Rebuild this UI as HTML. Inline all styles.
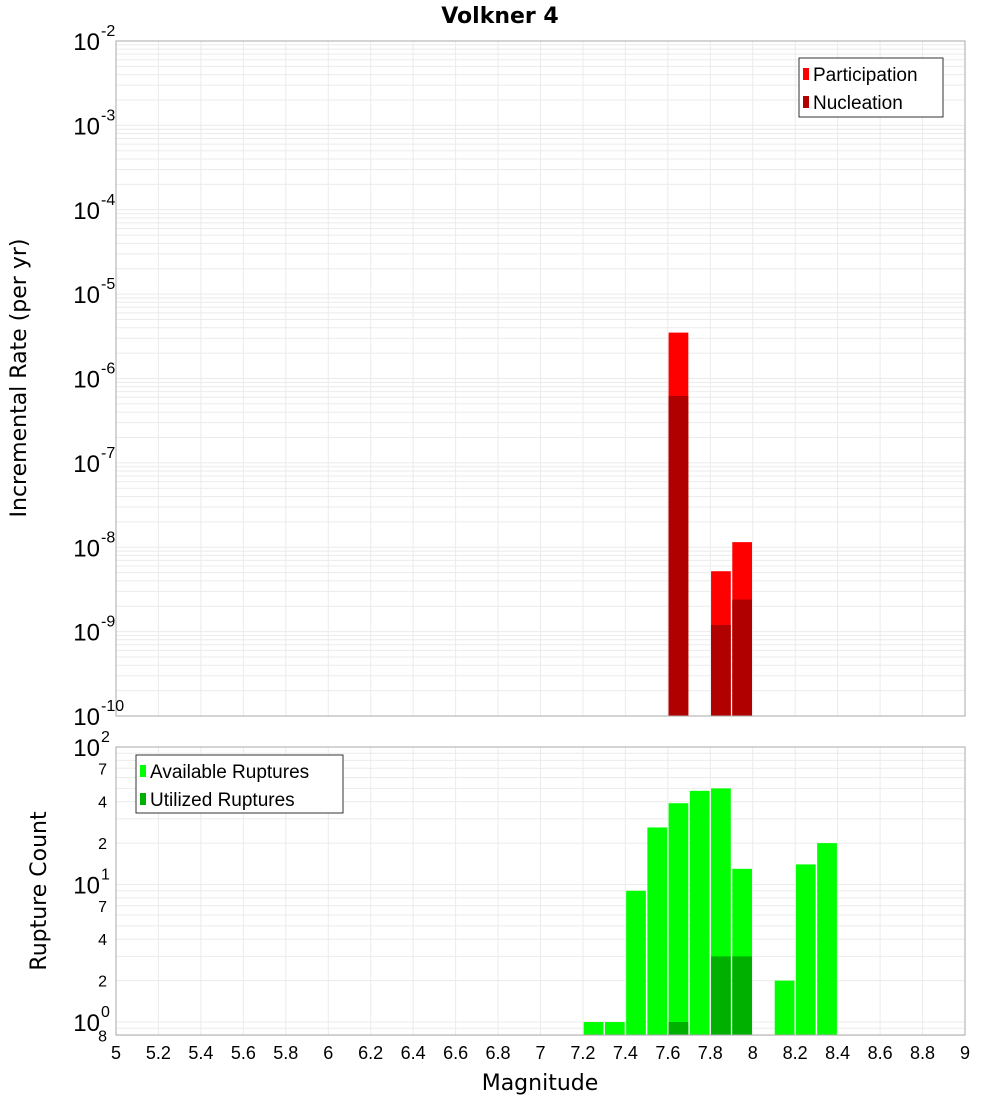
<!DOCTYPE html>
<html><head><meta charset="utf-8"><style>
html,body{margin:0;padding:0;background:#fff;}
svg{display:block;font-family:"Liberation Sans","DejaVu Sans",sans-serif;}
</style></head><body>
<svg id="chart" width="1000" height="1100" xmlns="http://www.w3.org/2000/svg">
<text x="500" y="23" text-anchor="middle" font-size="22" font-weight="bold" font-family="DejaVu Sans, sans-serif">Volkner 4</text>
<g id="topPanel"></g>
<g id="botPanel"></g>
<text x="540" y="1090" text-anchor="middle" font-size="22" font-family="DejaVu Sans, sans-serif">Magnitude</text>
<text transform="translate(26,378) rotate(-90)" text-anchor="middle" font-size="22" font-family="DejaVu Sans, sans-serif">Incremental Rate (per yr)</text>
<text transform="translate(46,891) rotate(-90)" text-anchor="middle" font-size="22" font-family="DejaVu Sans, sans-serif">Rupture Count</text>
</svg>
<script>
const rateMags = [7.65, 7.85, 7.95];
const participation = [3.5e-6, 5.2e-9, 1.15e-8];
const nucleation = [6.2e-7, 1.2e-9, 2.4e-9];
const countMags = [7.25, 7.35, 7.45, 7.55, 7.65, 7.75, 7.85, 7.95, 8.15, 8.25, 8.35];
const available = [1, 1, 9, 26, 39, 48, 50, 13, 2, 14, 20];
const utilMags = [7.65, 7.85, 7.95];
const utilized = [1, 3, 3];
const xTicks = ["5","5.2","5.4","5.6","5.8","6","6.2","6.4","6.6","6.8","7","7.2","7.4","7.6","7.8","8","8.2","8.4","8.6","8.8","9"];
const topExps = [-2,-3,-4,-5,-6,-7,-8,-9,-10];
const botMinorLabels = [2,4,7];

const NS = "http://www.w3.org/2000/svg";
const X0 = 116, X1 = 965;
const xs = m => X0 + (m - 5) / 4 * (X1 - X0);
const T0 = 41, T1 = 716;
const ty = v => T0 + (-2 - Math.log10(v)) / 8 * (T1 - T0);
const B0 = 747, B1 = 1035;
const bpd = 137.5;
const by = v => B0 + (2 - Math.log10(v)) * bpd;
function mk(parent, tag, attrs){const el=document.createElementNS(NS,tag);for(const k in attrs)el.setAttribute(k,attrs[k]);parent.appendChild(el);return el;}
const gTop = document.getElementById('topPanel'), gBot = document.getElementById('botPanel');

function grid(g, y0, y1, lines){
  for(let m=5;m<=9.001;m+=0.2){
    const l=mk(g,'line',{x1:xs(m),x2:xs(m),y1:y0,y2:y1,stroke:'#ebebeb','stroke-width':1});
    
    
  }
  lines.forEach(y=>{
    const l=mk(g,'line',{x1:X0,x2:X1,y1:y,y2:y,stroke:'#ebebeb','stroke-width':1});
    
    
  });
}
let tl=[];
for(let ex=-10;ex<-2;ex++){for(let k=1;k<10;k++){tl.push(ty(k*Math.pow(10,ex)));}}
grid(gTop,T0,T1,tl);
let bl=[];
for(let ex=-1;ex<2;ex++){for(let k=1;k<10;k++){const v=k*Math.pow(10,ex);if(v>=0.8)bl.push(by(v));}}
grid(gBot,B0,B1,bl);

function bar(g, m, v, y, base, color, name){
  const x=xs(m-0.05)+0.75, w=xs(m+0.05)-xs(m-0.05)-1.5;
  const yy=y(v);
  const r=mk(g,'rect',{x:x,y:yy,width:w,height:base-yy,fill:color});
  
  
}
rateMags.forEach((m,i)=>bar(gTop,m,participation[i],ty,T1,'#ff0000','participation-bar'));
rateMags.forEach((m,i)=>bar(gTop,m,nucleation[i],ty,T1,'#b00000','nucleation-bar'));
countMags.forEach((m,i)=>bar(gBot,m,available[i],by,B1,'#00ff00','available-bar'));
utilMags.forEach((m,i)=>bar(gBot,m,utilized[i],by,B1,'#00b000','utilized-bar'));

const f1=mk(gTop,'rect',{x:X0,y:T0,width:X1-X0,height:T1-T0,fill:'none',stroke:'#aaa','stroke-width':1});


const f2=mk(gBot,'rect',{x:X0,y:B0,width:X1-X0,height:B1-B0,fill:'none',stroke:'#aaa','stroke-width':1});



topExps.forEach(ex=>{
  const y=ty(Math.pow(10,ex));
  const t=mk(gTop,'text',{x:100,y:y+9,'text-anchor':'end','font-size':24,fill:'#000'});
  t.textContent='10';
  
  
  const s=mk(gTop,'text',{x:101,y:y-5,'font-size':16,fill:'#000'});
  s.textContent=String(ex);
  
  
});
[[2,'2'],[1,'1'],[0,'0']].forEach(([ex,s0])=>{
  const y=by(Math.pow(10,ex));
  const t=mk(gBot,'text',{x:100,y:y+9,'text-anchor':'end','font-size':24,fill:'#000'});
  t.textContent='10';
  
  
  const s=mk(gBot,'text',{x:101,y:y-5,'font-size':16,fill:'#000'});
  s.textContent=s0;
  
  
});
[1,10].forEach(d=>botMinorLabels.forEach(k=>{
  const y=by(k*d);
  const t=mk(gBot,'text',{x:107,y:y+6,'text-anchor':'end','font-size':16,fill:'#000'});
  t.textContent=String(k);
  
  
}));
const e8=mk(gBot,'text',{x:107,y:by(0.8)+6,'text-anchor':'end','font-size':16,fill:'#000'});
e8.textContent='8';



xTicks.forEach(s=>{
  const t=mk(gBot,'text',{x:xs(parseFloat(s)),y:1059,'text-anchor':'middle','font-size':18,fill:'#000'});
  t.textContent=s;
  
  
});

function legend(g,x,y,w,h,items,name){
  const lg=mk(g,'g',{});
  
  
  mk(lg,'rect',{x:x,y:y,width:w,height:h,fill:'#fff',stroke:'#333','stroke-width':1});
  items.forEach(([c,label],i)=>{
    const sw=mk(lg,'rect',{x:x+4,y:y+10+i*28,width:6,height:12,fill:c});
    
    
    const t=mk(lg,'text',{x:x+14,y:y+23+i*28,'font-size':19,fill:'#000'});
    t.textContent=label;
    
    
  });
}
legend(gTop,799,58,144,59,[['#ff0000','Participation'],['#b00000','Nucleation']],'rate-legend');
legend(gBot,136,755,207,58,[['#00ff00','Available Ruptures'],['#00b000','Utilized Ruptures']],'count-legend');
</script>
</body></html>
